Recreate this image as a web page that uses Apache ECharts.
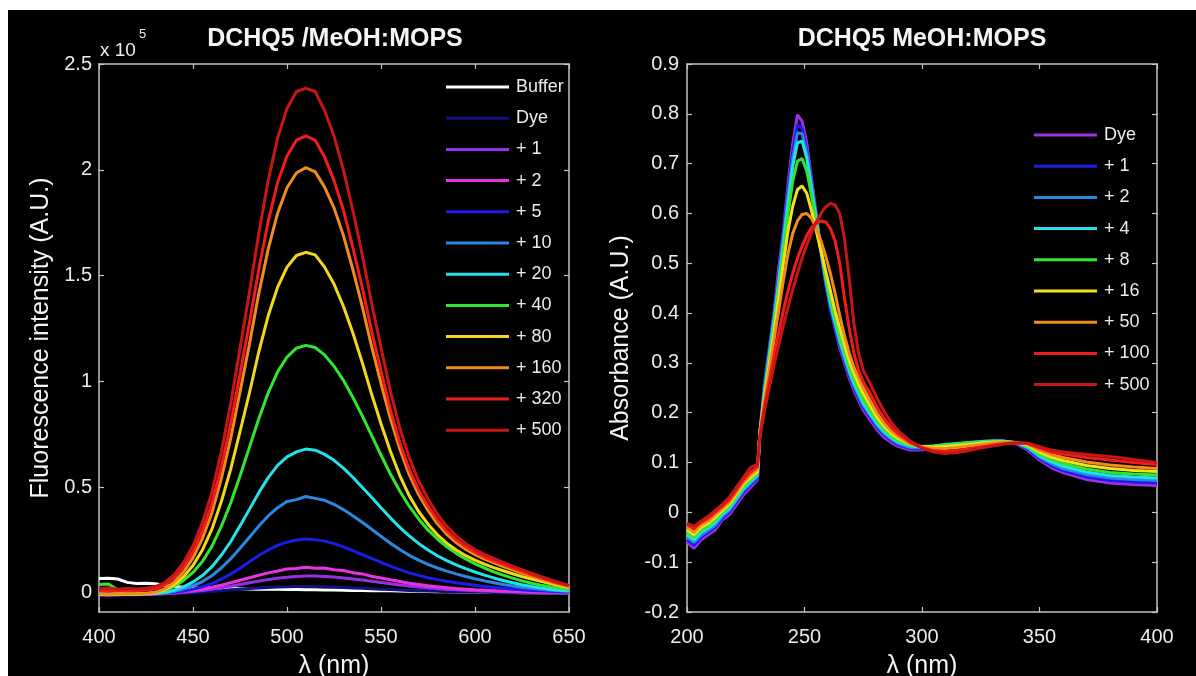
<!DOCTYPE html>
<html>
<head>
<meta charset="utf-8">
<script src="https://cdn.jsdelivr.net/npm/echarts@6.0.0/dist/echarts.min.js"></script>
<style>
  html, body { margin: 0; padding: 0; background: #ffffff; }
  #fluo { position: absolute; left: 8px; top: 10px; width: 590px; height: 666px; background: #000; }
  #abs { position: absolute; left: 598px; top: 10px; width: 598px; height: 666px; background: #000; }
</style>
</head>
<body>
<div id="fluo"></div>
<div id="abs"></div>
<script>
// fluorescence spectra, intensity in units of 1e5
const fluoWavelength = [
  400, 405, 410, 415, 420, 425, 430, 435, 440, 445,
  450, 455, 460, 465, 470, 475, 480, 485, 490, 495,
  500, 505, 510, 515, 520, 525, 530, 535, 540, 545,
  550, 555, 560, 565, 570, 575, 580, 585, 590, 595,
  600, 605, 610, 615, 620, 625, 630, 635, 640, 645,
  650
];
const fluoBuffer = [
  0.068, 0.07, 0.066, 0.05, 0.045, 0.046, 0.044, 0.035, 0.03, 0.027,
  0.025, 0.024, 0.023, 0.022, 0.021, 0.02, 0.019, 0.018, 0.018, 0.017,
  0.016, 0.016, 0.015, 0.015, 0.014, 0.014, 0.013, 0.012, 0.012, 0.011,
  0.01, 0.01, 0.009, 0.008, 0.008, 0.007, 0.006, 0.006, 0.005, 0.004,
  0.004, 0.003, 0.003, 0.002, 0.002, 0.001, 0.001, 0, 0, 0,
  0
];
const fluoDye = [
  -0.005, -0.006, -0.005, -0.004, -0.005, -0.004, -0.004, -0.003, -0.002, 0,
  0.002, 0.005, 0.008, 0.011, 0.015, 0.018, 0.021, 0.024, 0.026, 0.028,
  0.029, 0.03, 0.03, 0.03, 0.029, 0.028, 0.026, 0.024, 0.022, 0.02,
  0.018, 0.016, 0.014, 0.012, 0.01, 0.009, 0.008, 0.006, 0.005, 0.004,
  0.004, 0.003, 0.002, 0.002, 0.001, 0.001, 0.001, 0, 0, 0,
  0
];
const fluoPlus1 = [
  -0.009, -0.01, -0.009, -0.008, -0.009, -0.007, -0.006, -0.004, -0.001, 0.003,
  0.007, 0.012, 0.018, 0.025, 0.032, 0.04, 0.048, 0.056, 0.063, 0.069,
  0.074, 0.078, 0.08, 0.08, 0.078, 0.075, 0.071, 0.066, 0.061, 0.055,
  0.049, 0.043, 0.038, 0.033, 0.028, 0.024, 0.021, 0.018, 0.015, 0.013,
  0.011, 0.009, 0.008, 0.006, 0.005, 0.004, 0.003, 0.003, 0.002, 0.002,
  0.001
];
const fluoPlus2 = [
  -0.008, -0.007, -0.008, -0.006, -0.007, -0.005, -0.004, -0.002, 0.002, 0.006,
  0.012, 0.019, 0.027, 0.037, 0.048, 0.06, 0.072, 0.084, 0.095, 0.104,
  0.113, 0.116, 0.121, 0.117, 0.118, 0.11, 0.106, 0.096, 0.09, 0.079,
  0.071, 0.062, 0.054, 0.046, 0.04, 0.034, 0.029, 0.025, 0.021, 0.018,
  0.015, 0.013, 0.011, 0.009, 0.007, 0.006, 0.005, 0.004, 0.003, 0.003,
  0.002
];
const fluoPlus5 = [
  -0.004, -0.005, -0.004, -0.003, -0.004, -0.003, -0.002, 0, 0.003, 0.009,
  0.018, 0.029, 0.044, 0.065, 0.089, 0.117, 0.147, 0.177, 0.203, 0.225,
  0.24, 0.25, 0.255, 0.252, 0.245, 0.233, 0.218, 0.2, 0.181, 0.163,
  0.145, 0.127, 0.11, 0.095, 0.083, 0.072, 0.063, 0.055, 0.048, 0.042,
  0.036, 0.031, 0.026, 0.022, 0.018, 0.015, 0.012, 0.01, 0.008, 0.006,
  0.005
];
const fluoPlus10 = [
  -0.005, -0.004, -0.006, -0.005, -0.004, -0.004, -0.002, 0.001, 0.008, 0.019,
  0.034, 0.054, 0.081, 0.118, 0.161, 0.211, 0.263, 0.316, 0.364, 0.403,
  0.432, 0.441, 0.456, 0.447, 0.438, 0.419, 0.394, 0.365, 0.334, 0.301,
  0.268, 0.235, 0.205, 0.178, 0.155, 0.135, 0.118, 0.103, 0.09, 0.078,
  0.067, 0.057, 0.048, 0.04, 0.033, 0.027, 0.022, 0.017, 0.013, 0.01,
  0.008
];
const fluoPlus20 = [
  -0.006, -0.007, -0.005, -0.006, -0.007, -0.005, -0.003, 0.002, 0.013, 0.029,
  0.052, 0.082, 0.123, 0.178, 0.242, 0.317, 0.395, 0.474, 0.545, 0.603,
  0.643, 0.667, 0.68, 0.675, 0.655, 0.627, 0.59, 0.547, 0.5, 0.452,
  0.403, 0.355, 0.31, 0.27, 0.234, 0.203, 0.176, 0.153, 0.133, 0.115,
  0.099, 0.084, 0.071, 0.059, 0.048, 0.039, 0.031, 0.024, 0.018, 0.013,
  0.01
];
const fluoPlus40 = [
  0.04, 0.042, 0.015, 0.002, -0.004, -0.003, 0.002, 0.012, 0.031, 0.059,
  0.097, 0.149, 0.219, 0.313, 0.424, 0.553, 0.688, 0.823, 0.946, 1.045,
  1.115, 1.157, 1.17, 1.16, 1.125, 1.072, 1.005, 0.925, 0.838, 0.745,
  0.652, 0.562, 0.482, 0.41, 0.35, 0.298, 0.255, 0.218, 0.187, 0.161,
  0.138, 0.118, 0.1, 0.084, 0.07, 0.057, 0.046, 0.037, 0.029, 0.022,
  0.017
];
const fluoPlus80 = [
  -0.006, -0.008, -0.005, -0.007, -0.006, -0.004, 0.001, 0.014, 0.039, 0.077,
  0.13, 0.203, 0.3, 0.43, 0.583, 0.762, 0.945, 1.14, 1.31, 1.445,
  1.54, 1.595, 1.61, 1.598, 1.54, 1.46, 1.355, 1.23, 1.09, 0.94,
  0.8, 0.67, 0.555, 0.46, 0.385, 0.325, 0.275, 0.235, 0.203, 0.177,
  0.155, 0.136, 0.12, 0.105, 0.091, 0.078, 0.066, 0.055, 0.045, 0.035,
  0.026
];
const fluoPlus160 = [
  -0.004, -0.006, -0.003, -0.005, -0.004, -0.002, 0.004, 0.02, 0.052, 0.1,
  0.166, 0.257, 0.377, 0.538, 0.728, 0.95, 1.175, 1.415, 1.625, 1.795,
  1.915, 1.985, 2.01, 1.99, 1.918, 1.82, 1.69, 1.53, 1.355, 1.165,
  0.99, 0.825, 0.68, 0.56, 0.465, 0.39, 0.327, 0.277, 0.238, 0.207,
  0.181, 0.16, 0.142, 0.125, 0.109, 0.094, 0.08, 0.066, 0.053, 0.041,
  0.03
];
const fluoPlus320 = [
  0.012, 0.01, 0.013, 0.011, 0.012, 0.013, 0.021, 0.038, 0.073, 0.124,
  0.195, 0.292, 0.42, 0.593, 0.797, 1.035, 1.275, 1.53, 1.755, 1.94,
  2.065, 2.14, 2.16, 2.14, 2.06, 1.95, 1.81, 1.635, 1.445, 1.24,
  1.05, 0.865, 0.71, 0.585, 0.487, 0.41, 0.345, 0.292, 0.251, 0.219,
  0.192, 0.17, 0.152, 0.135, 0.118, 0.102, 0.087, 0.072, 0.058, 0.045,
  0.033
];
const fluoPlus500 = [
  0.02, 0.023, 0.018, 0.021, 0.019, 0.022, 0.03, 0.049, 0.087, 0.144,
  0.223, 0.331, 0.474, 0.665, 0.892, 1.155, 1.42, 1.7, 1.95, 2.15,
  2.29, 2.37, 2.385, 2.37, 2.28, 2.16, 2.0, 1.81, 1.6, 1.37,
  1.16, 0.955, 0.78, 0.64, 0.53, 0.445, 0.372, 0.315, 0.27, 0.234,
  0.205, 0.182, 0.163, 0.145, 0.127, 0.11, 0.094, 0.078, 0.063, 0.049,
  0.036
];
const fluoLabels = ['Buffer', 'Dye', '+ 1', '+ 2', '+ 5', '+ 10', '+ 20', '+ 40', '+ 80', '+ 160', '+ 320', '+ 500'];
const fluoValues = [fluoBuffer, fluoDye, fluoPlus1, fluoPlus2, fluoPlus5, fluoPlus10, fluoPlus20, fluoPlus40, fluoPlus80, fluoPlus160, fluoPlus320, fluoPlus500];
const fluoTicks = [0, 0.5, 1, 1.5, 2, 2.5];

// absorbance spectra
const absWavelength = [
  200, 203, 206, 209, 212, 215, 218, 221, 224, 227, 230,
  231,
  233, 235, 237, 239, 241, 243, 245, 247, 249, 251, 253, 255, 257, 259, 261, 263, 265, 267, 269, 271, 273, 275,
  278, 281, 284, 287, 290,
  295, 300, 305, 310, 315, 320, 325, 330, 335, 340, 345, 350, 355, 360,
  370, 380, 390, 400
];
const absDye = [
  -0.06, -0.072, -0.055, -0.045, -0.035, -0.015, -0.005, 0.015, 0.035, 0.05, 0.065,
  0.16,
  0.26, 0.33, 0.40, 0.49, 0.565, 0.66, 0.74, 0.798, 0.785, 0.74, 0.67, 0.60, 0.52, 0.46, 0.41, 0.37, 0.33, 0.30, 0.27, 0.245, 0.225, 0.205,
  0.185, 0.165, 0.15, 0.14, 0.132,
  0.125, 0.125, 0.13, 0.133, 0.135, 0.138, 0.14, 0.142, 0.142, 0.138, 0.125, 0.105, 0.09, 0.08,
  0.066, 0.059, 0.056, 0.054
];
const absPlus1 = [
  -0.055, -0.066, -0.05, -0.04, -0.03, -0.012, 0.0, 0.02, 0.04, 0.055, 0.068,
  0.16,
  0.255, 0.325, 0.395, 0.475, 0.56, 0.645, 0.725, 0.778, 0.77, 0.725, 0.66, 0.595, 0.52, 0.46, 0.41, 0.372, 0.335, 0.305, 0.275, 0.25, 0.23, 0.21,
  0.19, 0.17, 0.155, 0.144, 0.135,
  0.128, 0.127, 0.131, 0.134, 0.136, 0.139, 0.141, 0.143, 0.143, 0.139, 0.127, 0.108, 0.094, 0.084,
  0.071, 0.064, 0.061, 0.059
];
const absPlus2 = [
  -0.05, -0.06, -0.046, -0.036, -0.026, -0.008, 0.004, 0.024, 0.044, 0.058, 0.072,
  0.16,
  0.25, 0.32, 0.39, 0.468, 0.55, 0.635, 0.71, 0.762, 0.76, 0.72, 0.655, 0.595, 0.525, 0.465, 0.415, 0.377, 0.34, 0.31, 0.28, 0.255, 0.235, 0.215,
  0.194, 0.174, 0.158, 0.147, 0.138,
  0.13, 0.129, 0.132, 0.135, 0.137, 0.14, 0.142, 0.143, 0.143, 0.14, 0.129, 0.111, 0.098, 0.088,
  0.076, 0.069, 0.066, 0.064
];
const absPlus4 = [
  -0.045, -0.055, -0.04, -0.032, -0.02, -0.004, 0.008, 0.028, 0.048, 0.062, 0.075,
  0.16,
  0.245, 0.315, 0.385, 0.46, 0.54, 0.62, 0.695, 0.742, 0.745, 0.71, 0.65, 0.59, 0.528, 0.47, 0.422, 0.383, 0.347, 0.316, 0.286, 0.26, 0.24, 0.22,
  0.198, 0.178, 0.162, 0.15, 0.141,
  0.133, 0.131, 0.133, 0.136, 0.138, 0.14, 0.142, 0.143, 0.143, 0.14, 0.131, 0.114, 0.102, 0.093,
  0.081, 0.074, 0.071, 0.069
];
const absPlus8 = [
  -0.04, -0.05, -0.035, -0.028, -0.015, 0.0, 0.012, 0.032, 0.052, 0.066, 0.078,
  0.16,
  0.24, 0.305, 0.375, 0.447, 0.525, 0.6, 0.665, 0.705, 0.71, 0.685, 0.635, 0.58, 0.527, 0.475, 0.43, 0.39, 0.355, 0.323, 0.293, 0.267, 0.246, 0.226,
  0.203, 0.183, 0.166, 0.153, 0.144,
  0.135, 0.132, 0.133, 0.135, 0.137, 0.139, 0.141, 0.142, 0.142, 0.14, 0.133, 0.117, 0.106, 0.098,
  0.087, 0.08, 0.077, 0.075
];
const absPlus16 = [
  -0.035, -0.045, -0.03, -0.022, -0.01, 0.004, 0.016, 0.036, 0.056, 0.07, 0.082,
  0.16,
  0.232, 0.295, 0.36, 0.43, 0.5, 0.565, 0.615, 0.648, 0.655, 0.64, 0.605, 0.565, 0.525, 0.485, 0.445, 0.405, 0.37, 0.337, 0.305, 0.28, 0.258, 0.238,
  0.213, 0.19, 0.172, 0.158, 0.148,
  0.137, 0.132, 0.131, 0.132, 0.134, 0.136, 0.139, 0.141, 0.141, 0.14, 0.135, 0.121, 0.111, 0.104,
  0.094, 0.088, 0.084, 0.082
];
const absPlus50 = [
  -0.03, -0.04, -0.025, -0.018, -0.005, 0.008, 0.02, 0.04, 0.06, 0.075, 0.087,
  0.16,
  0.225, 0.285, 0.345, 0.405, 0.465, 0.52, 0.56, 0.585, 0.598, 0.6, 0.59, 0.57, 0.545, 0.515, 0.48, 0.44, 0.395, 0.355, 0.32, 0.292, 0.27, 0.25,
  0.224, 0.198, 0.178, 0.163, 0.152,
  0.138, 0.131, 0.128, 0.128, 0.13, 0.133, 0.136, 0.139, 0.14, 0.14, 0.137, 0.125, 0.116, 0.11,
  0.101, 0.095, 0.091, 0.088
];
const absPlus100 = [
  -0.025, -0.032, -0.02, -0.012, 0.0, 0.012, 0.025, 0.045, 0.065, 0.08, 0.092,
  0.155,
  0.215, 0.265, 0.315, 0.36, 0.405, 0.445, 0.48, 0.51, 0.535, 0.556, 0.572, 0.58, 0.585, 0.583, 0.57, 0.545, 0.5, 0.43, 0.37, 0.32, 0.285, 0.262,
  0.238, 0.21, 0.188, 0.17, 0.157,
  0.14, 0.13, 0.124, 0.122, 0.124, 0.127, 0.131, 0.135, 0.138, 0.139, 0.138, 0.129, 0.121, 0.117,
  0.11, 0.105, 0.1, 0.096
];
const absPlus500 = [
  -0.022, -0.028, -0.018, -0.008, 0.004, 0.016, 0.03, 0.05, 0.07, 0.09, 0.097,
  0.15,
  0.205, 0.25, 0.295, 0.335, 0.375, 0.412, 0.447, 0.48, 0.51, 0.537, 0.562, 0.583, 0.6, 0.613, 0.62, 0.617, 0.6, 0.55, 0.47, 0.38, 0.32, 0.285,
  0.258, 0.228, 0.202, 0.18, 0.163,
  0.143, 0.129, 0.121, 0.118, 0.12, 0.124, 0.129, 0.133, 0.137, 0.139, 0.139, 0.132, 0.125, 0.121,
  0.116, 0.112, 0.106, 0.1
];
const absLabels = ['Dye', '+ 1', '+ 2', '+ 4', '+ 8', '+ 16', '+ 50', '+ 100', '+ 500'];
const absValues = [absDye, absPlus1, absPlus2, absPlus4, absPlus8, absPlus16, absPlus50, absPlus100, absPlus500];

// styles
const FONT = "'Liberation Sans', Arial, Helvetica, sans-serif";
const AXIS_COLOR = '#c4c4c4';
const TEXT_COLOR = '#ececec';
const fluoColors = ['#ffffff', '#12127a', '#9a2ee8', '#e834e0', '#1c1ce8', '#2a88e2', '#24e2e8', '#30e630', '#f2d81c', '#f08c1c', '#f21c1c', '#c81616'];
const absColors = ['#a030e8', '#1c1ce8', '#2a88e2', '#24e2e8', '#30e630', '#f2e21c', '#f08c1c', '#f21c1c', '#c81616'];

function boxAxis(opts, showLabel) {
  return Object.assign({
    type: 'value',
    axisLine: { show: true, onZero: false, lineStyle: { color: AXIS_COLOR, width: 1.5 } },
    axisTick: { show: true, inside: true, length: 5, lineStyle: { color: AXIS_COLOR, width: 1.2 } },
    axisLabel: { show: showLabel, color: TEXT_COLOR, fontSize: 20, fontFamily: FONT },
    splitLine: { show: false }
  }, opts);
}

function makeSeries(xs, values, labels, colors) {
  return values.map((ys, i) => ({
    name: labels[i],
    type: 'line',
    data: xs.map((x, j) => [x, ys[j]]),
    symbol: 'none',
    lineStyle: { width: 3, color: colors[i] },
    itemStyle: { color: colors[i] },
    emphasis: { disabled: true }
  }));
}

function makeLegend(left, top, labels) {
  return {
    orient: 'vertical',
    left: left,
    top: top,
    padding: 0,
    icon: 'rect',
    itemWidth: 63,
    itemHeight: 3,
    itemGap: 11.2,
    selectedMode: false,
    textStyle: { color: TEXT_COLOR, fontSize: 18, lineHeight: 20, fontFamily: FONT, padding: [0, 0, 0, 2] },
    data: labels
  };
}

const fluoChart = echarts.init(document.getElementById('fluo'));
fluoChart.setOption({
  animation: false,
  backgroundColor: '#000000',
  grid: { left: 91, top: 54, width: 470, height: 548, outerBoundsMode: 'none' },
  title: {
    text: 'DCHQ5 /MeOH:MOPS', left: 322, top: 12, textAlign: 'center',
    textStyle: { color: '#f4f4f4', fontSize: 25, fontWeight: 'bold', fontFamily: FONT }
  },
  graphic: [
    { type: 'text', x: 92, y: 41, style: { text: 'x 10', fill: TEXT_COLOR, font: '19px ' + FONT, verticalAlign: 'middle' } },
    { type: 'text', x: 131, y: 24, style: { text: '5', fill: TEXT_COLOR, font: '13px ' + FONT, verticalAlign: 'middle' } }
  ],
  legend: makeLegend(438, 67, fluoLabels),
  xAxis: [
    boxAxis({
      min: 400, max: 650, interval: 50, position: 'bottom',
      axisLabel: { show: true, color: TEXT_COLOR, fontSize: 20, fontFamily: FONT, margin: 15 },
      name: 'λ (nm)', nameLocation: 'middle', nameGap: 42,
      nameTextStyle: { color: '#f4f4f4', fontSize: 25, fontFamily: FONT }
    }, true),
    boxAxis({ min: 400, max: 650, interval: 50, position: 'top' }, false)
  ],
  yAxis: [
    boxAxis({
      min: -0.09, max: 2.5, position: 'left',
      axisTick: { show: true, inside: true, length: 5, customValues: fluoTicks, lineStyle: { color: AXIS_COLOR, width: 1.2 } },
      axisLabel: { show: true, color: TEXT_COLOR, fontSize: 20, fontFamily: FONT, margin: 7, customValues: fluoTicks },
      name: 'Fluorescence intensity (A.U.)', nameLocation: 'middle', nameGap: 44, nameRotate: 90,
      nameTextStyle: { color: '#f4f4f4', fontSize: 25, fontFamily: FONT }
    }, true),
    boxAxis({
      min: -0.09, max: 2.5, position: 'right',
      axisTick: { show: true, inside: true, length: 5, customValues: fluoTicks, lineStyle: { color: AXIS_COLOR, width: 1.2 } }
    }, false)
  ],
  series: makeSeries(fluoWavelength, fluoValues, fluoLabels, fluoColors)
});

const absChart = echarts.init(document.getElementById('abs'));
absChart.setOption({
  animation: false,
  backgroundColor: '#000000',
  grid: { left: 89, top: 54, width: 470, height: 548, outerBoundsMode: 'none' },
  title: {
    text: 'DCHQ5 MeOH:MOPS', left: 319, top: 12, textAlign: 'center',
    textStyle: { color: '#f4f4f4', fontSize: 25, fontWeight: 'bold', fontFamily: FONT }
  },
  legend: makeLegend(436, 115, absLabels),
  xAxis: [
    boxAxis({
      min: 200, max: 400, interval: 50, position: 'bottom',
      axisLabel: { show: true, color: TEXT_COLOR, fontSize: 20, fontFamily: FONT, margin: 15 },
      name: 'λ (nm)', nameLocation: 'middle', nameGap: 42,
      nameTextStyle: { color: '#f4f4f4', fontSize: 25, fontFamily: FONT }
    }, true),
    boxAxis({ min: 200, max: 400, interval: 50, position: 'top' }, false)
  ],
  yAxis: [
    boxAxis({
      min: -0.2, max: 0.9, interval: 0.1, position: 'left',
      axisLabel: {
        show: true, color: TEXT_COLOR, fontSize: 20, fontFamily: FONT, margin: 8,
        formatter: v => String(+v.toFixed(2))
      },
      name: 'Absorbance (A.U.)', nameLocation: 'middle', nameGap: 52, nameRotate: 90,
      nameTextStyle: { color: '#f4f4f4', fontSize: 25, fontFamily: FONT }
    }, true),
    boxAxis({ min: -0.2, max: 0.9, interval: 0.1, position: 'right' }, false)
  ],
  series: makeSeries(absWavelength, absValues, absLabels, absColors)
});
</script>
</body>
</html>
